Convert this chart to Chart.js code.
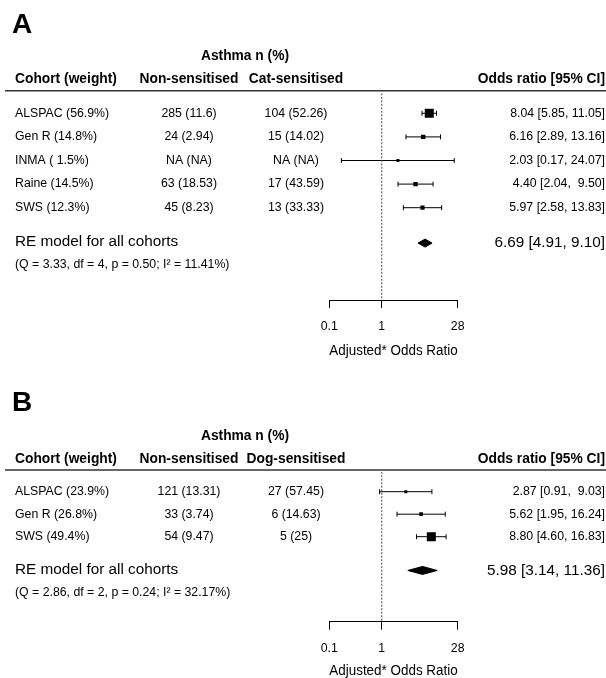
<!DOCTYPE html>
<html>
<head>
<meta charset="utf-8">
<script src="https://cdn.jsdelivr.net/npm/chart.js@4.4.0/dist/chart.umd.min.js"></script>
<style>
  html, body { margin: 0; padding: 0; background: #fff; }
  canvas { display: block; }
</style>
</head>
<body>
<canvas id="chartA" width="606" height="372"></canvas>
<canvas id="chartB" width="606" height="306"></canvas>
<script>
// ---- panel A: cat sensitisation ----
const cohortsA = ['ALSPAC', 'Gen R', 'INMA', 'Raine', 'SWS'];
const weightsA = [56.9, 14.8, 1.5, 14.5, 12.3];
const nonSensA = ['285 (11.6)', '24 (2.94)', 'NA (NA)', '63 (18.53)', '45 (8.23)'];
const sensA = ['104 (52.26)', '15 (14.02)', 'NA (NA)', '17 (43.59)', '13 (33.33)'];
const orA = [8.04, 6.16, 2.03, 4.40, 5.97];
const lowerA = [5.85, 2.89, 0.17, 2.04, 2.58];
const upperA = [11.05, 13.16, 24.07, 9.50, 13.83];
const reA = [6.69, 4.91, 9.10]; // estimate, lower, upper
const hetA = '(Q = 3.33, df = 4, p = 0.50; I² = 11.41%)';
const headersA = ['Cohort (weight)', 'Non-sensitised', 'Cat-sensitised', 'Odds ratio [95% CI]'];

// ---- panel B: dog sensitisation ----
const cohortsB = ['ALSPAC', 'Gen R', 'SWS'];
const weightsB = [23.9, 26.8, 49.4];
const nonSensB = ['121 (13.31)', '33 (3.74)', '54 (9.47)'];
const sensB = ['27 (57.45)', '6 (14.63)', '5 (25)'];
const orB = [2.87, 5.62, 8.80];
const lowerB = [0.91, 1.95, 4.60];
const upperB = [9.03, 16.24, 16.83];
const reB = [5.98, 3.14, 11.36];
const hetB = '(Q = 2.86, df = 2, p = 0.24; I² = 32.17%)';
const headersB = ['Cohort (weight)', 'Non-sensitised', 'Dog-sensitised', 'Odds ratio [95% CI]'];

const groupTitle = 'Asthma n (%)';
const reLabel = 'RE model for all cohorts';
const axisTitle = 'Adjusted* Odds Ratio';
const xTicks = [0.1, 1, 28];

const FONT = '"Liberation Sans", Arial, Helvetica, sans-serif';

function fmtCI(est, lo, hi) {
    return `${est.toFixed(2)} [${lo.toFixed(2)}, ${hi.toFixed(2).padStart(5)}]`;
}

function makeForest(canvasId, p) {
    const n = p.cohorts.length;
    const reRow = n + 1.5;
    const rowPx = p.rowPx;
    const yMin = 1 - 20 / rowPx;
    const yMax = 1 + (p.axisY - p.chartTop - 20) / rowPx;
    const dh = 4 / rowPx; // diamond half height

    // point sizes like metafor: scaled weights 0.5..1.5
    const wMin = Math.min(...p.weights), wMax = Math.max(...p.weights);
    const radii = p.weights.map(w => 6 * (0.5 + (w - wMin) / (wMax - wMin)) / Math.SQRT2);

    const datasets = [];
    // reference line at OR = 1
    datasets.push({
        data: [{x: 1, y: yMin}, {x: 1, y: yMax}],
        showLine: true, borderColor: '#444', borderWidth: 1, borderDash: [2, 1.5],
        pointRadius: 0
    });
    // confidence intervals with end caps
    p.cohorts.forEach((c, i) => {
        datasets.push({
            data: [{x: p.lower[i], y: i + 1}, {x: p.upper[i], y: i + 1}],
            showLine: true, borderColor: '#000', borderWidth: 1,
            pointStyle: 'line', pointRotation: 90, pointRadius: 2.5,
            pointBorderColor: '#000', pointBorderWidth: 1
        });
    });
    // point estimates
    datasets.push({
        data: p.or.map((v, i) => ({x: v, y: i + 1})),
        pointStyle: 'rect', pointRadius: radii,
        pointBackgroundColor: '#000', pointBorderWidth: 0
    });
    // summary diamond
    const [est, lo, hi] = p.re;
    datasets.push({
        data: [{x: lo, y: reRow}, {x: est, y: reRow - dh}, {x: hi, y: reRow},
               {x: est, y: reRow + dh}, {x: lo, y: reRow}],
        showLine: true, fill: 'shape', backgroundColor: '#000',
        borderColor: '#000', borderWidth: 1, pointRadius: 0, tension: 0
    });

    const textPlugin = {
        id: 'forestText',
        afterDraw(chart) {
            const ctx = chart.ctx;
            const ys = chart.scales.y;
            ctx.save();
            ctx.fillStyle = '#000';

            ctx.textBaseline = 'alphabetic';
            ctx.textAlign = 'left';
            ctx.font = 'bold 28px ' + FONT;
            ctx.fillText(p.letter, 12, p.letterBase);

            ctx.textBaseline = 'middle';
            ctx.font = 'bold 13.8px ' + FONT;
            ctx.textAlign = 'center';
            ctx.fillText(groupTitle, 245, p.groupY);
            ctx.textAlign = 'left';
            ctx.fillText(p.headers[0], 15, p.headY);
            ctx.textAlign = 'center';
            ctx.fillText(p.headers[1], 189, p.headY);
            ctx.fillText(p.headers[2], 296, p.headY);
            ctx.textAlign = 'right';
            ctx.fillText(p.headers[3], 605, p.headY);

            ctx.strokeStyle = '#333';
            ctx.lineWidth = 1.5;
            ctx.beginPath();
            ctx.moveTo(5, p.lineY);
            ctx.lineTo(606, p.lineY);
            ctx.stroke();

            ctx.font = '12.3px ' + FONT;
            p.cohorts.forEach((c, i) => {
                const y = ys.getPixelForValue(i + 1);
                ctx.textAlign = 'left';
                ctx.fillText(`${c} (${p.weights[i].toFixed(1).padStart(4)}%)`, 15, y);
                ctx.textAlign = 'center';
                ctx.fillText(p.nonSens[i], 189, y);
                ctx.fillText(p.sens[i], 296, y);
                ctx.textAlign = 'right';
                ctx.fillText(fmtCI(p.or[i], p.lower[i], p.upper[i]), 605, y);
            });

            const yRe = ys.getPixelForValue(reRow);
            ctx.font = '15.3px ' + FONT;
            ctx.textAlign = 'left';
            ctx.fillText(reLabel, 15, yRe - 1);
            ctx.textAlign = 'right';
            ctx.fillText(`${est.toFixed(2)} [${lo.toFixed(2)}, ${hi.toFixed(2)}]`, 605, yRe);
            ctx.font = '12.3px ' + FONT;
            ctx.textAlign = 'left';
            ctx.fillText(p.het, 15, yRe + 22);
            ctx.restore();
        }
    };

    const canvasH = document.getElementById(canvasId).height;
    const axisH = canvasH - p.padBottom - p.axisY;

    return new Chart(document.getElementById(canvasId), {
        type: 'scatter',
        data: {datasets: datasets},
        options: {
            responsive: false,
            animation: false,
            layout: {padding: {top: p.chartTop, left: 329.3, right: 606 - 457.7, bottom: p.padBottom}},
            plugins: {legend: {display: false}, tooltip: {enabled: false}},
            scales: {
                x: {
                    type: 'logarithmic',
                    min: 0.1,
                    max: 28,
                    afterBuildTicks: s => { s.ticks = xTicks.map(v => ({value: v})); },
                    afterFit: s => { s.height = axisH; },
                    ticks: {
                        autoSkip: false, maxRotation: 0, color: '#000', padding: 11.3,
                        font: {family: FONT, size: 12.3},
                        callback: v => String(v)
                    },
                    grid: {drawOnChartArea: false, drawTicks: true, tickLength: 8, color: '#000'},
                    border: {display: true, color: '#000', width: 1},
                    title: {
                        display: true, text: axisTitle, color: '#000',
                        font: {family: FONT, size: 14, lineHeight: 1},
                        padding: {top: 0, bottom: p.titlePad}
                    }
                },
                y: {type: 'linear', display: false, reverse: true, min: yMin, max: yMax}
            }
        },
        plugins: [textPlugin]
    });
}

makeForest('chartA', {
    letter: 'A', letterBase: 32.7, groupY: 56, headY: 79, lineY: 90.7,
    chartTop: 93.3, axisY: 300, rowPx: 23.6, padBottom: 12, titlePad: 2.3,
    cohorts: cohortsA, weights: weightsA, nonSens: nonSensA, sens: sensA,
    or: orA, lower: lowerA, upper: upperA, re: reA, het: hetA, headers: headersA
});

makeForest('chartB', {
    letter: 'B', letterBase: 38.7, groupY: 64, headY: 87.3, lineY: 98,
    chartTop: 99.7, axisY: 249.7, rowPx: 22.5, padBottom: 0, titlePad: 0,
    cohorts: cohortsB, weights: weightsB, nonSens: nonSensB, sens: sensB,
    or: orB, lower: lowerB, upper: upperB, re: reB, het: hetB, headers: headersB
});
</script>
</body>
</html>
